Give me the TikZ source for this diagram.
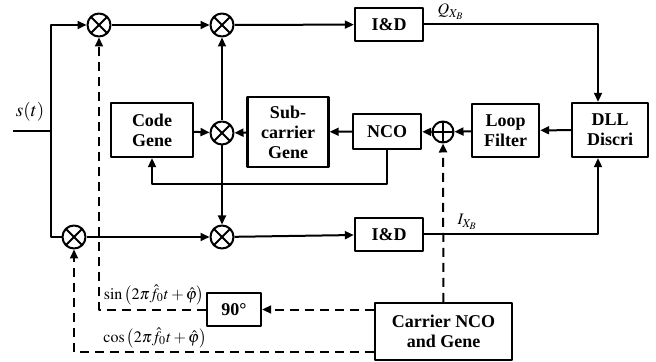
\documentclass[tikz,border=0pt]{standalone}
\usepackage{mathptmx}
\usepackage{fontspec}
\setmainfont{Liberation Serif}
\usetikzlibrary{arrows.meta}
\begin{document}
\begin{tikzpicture}[x=0.5pt,y=-0.5pt,line width=1pt,line join=round,
 >={Triangle[length=4.5pt,width=4pt]},
 blk/.style={draw,line width=1.2pt,align=center,inner sep=0pt,
  font=\fontsize{9}{10}\selectfont\bfseries},
 mul/.style={circle,draw,inner sep=0pt,minimum size=11.5pt,
  path picture={\draw (path picture bounding box.north west)--(path picture bounding box.south east)
   (path picture bounding box.north east)--(path picture bounding box.south west);}},
 add/.style={circle,draw,inner sep=0pt,minimum size=10.5pt,
  path picture={\draw (path picture bounding box.north)--(path picture bounding box.south)
   (path picture bounding box.east)--(path picture bounding box.west);}},
 dsh/.style={dash pattern=on 4.5pt off 3pt},
 lbl/.style={font=\fontsize{8}{9}\selectfont}]
 \useasboundingbox (0,0) rectangle (656,362);
 % blocks
 \node[blk,minimum width=41pt,minimum height=27pt] (code) at (152,130) {Code\\Gene};
 \node[blk,minimum width=40.5pt,minimum height=35pt] (sub) at (288,132) {Sub-\\carrier\\Gene};
 \node[blk,minimum width=34pt,minimum height=17.5pt] (nco) at (387,131.5) {NCO};
 \node[add] (sum) at (443,132) {};
 \node[blk,minimum width=33.5pt,minimum height=26.5pt] (loop) at (505.5,130.5) {Loop\\Filter};
 \node[blk,minimum width=38pt,minimum height=27pt] (dll) at (610,130) {DLL\\Discri};
 \node[blk,minimum width=34pt,minimum height=16.5pt] (idq) at (389,24.5) {I\&D};
 \node[blk,minimum width=34pt,minimum height=16.5pt] (idi) at (389,234.5) {I\&D};
 \node[blk,minimum width=68.5pt,minimum height=28.5pt] (car) at (443.5,331.5) {Carrier NCO\\and Gene};
 \node[blk,minimum width=27pt,minimum height=16.5pt] (ninety) at (234,309.5) {90°};
 % mixers
 \node[mul] (m1) at (99,25) {};
 \node[mul] (m2) at (222,25) {};
 \node[mul] (m3) at (222,133) {};
 \node[mul] (m4) at (74,237) {};
 \node[mul] (m5) at (222,237) {};
 \coordinate (in) at (13,131);
 \coordinate (split) at (51,131);
 \coordinate (fb) at (388,184);
 % solid paths
 \draw (in) -- (split) node[pos=0.45,above=1pt,font=\fontsize{9.5}{10}\selectfont] {$s(t)$};
 \draw[->] (split) |- (m1);
 \draw (split) |- (m4);
 \draw[->] (m1) -- (m2);
 \draw[->] (m2) -- (idq);
 \draw[->] (idq) -| ([xshift=-6pt]dll.north);
 \draw[->] (idi) -| ([xshift=-6pt]dll.south);
 \draw[->] (dll) -- (loop);
 \draw[->] (loop) -- (sum);
 \draw[->] (sum) -- (nco);
 \draw[->] (nco) -- (sub);
 \draw[->] (sub) -- (m3);
 \draw[->] (code) -- (m3);
 \draw[->] (m3) -- (m2);
 \draw[->] (m3) -- (m5);
 \draw[->] (nco) -- (nco |- fb) -| (code);
 \draw[->] (m4) -- (m5);
 \draw[->] (m5) -- (idi);
 % dashed paths
 \draw[dsh,->] (car) -- (sum);
 \draw[dsh,->] (car.west |- ninety) -- (ninety);
 \draw[dsh,->] (ninety) -| (m1);
 \draw[dsh,->] ([yshift=-10.25pt]car.west) -| (m4);
 % labels
 \node[lbl,anchor=west] at (430,12) {$Q_{X_B}$};
 \node[lbl,anchor=west] at (450,222) {$I_{X_B}$};
 \node[lbl] at (154,295) {$\sin\left(2\pi\hat{f}_0t+\hat{\varphi}\right)$};
 \node[lbl] at (155,338) {$\cos\left(2\pi\hat{f}_0t+\hat{\varphi}\right)$};
\end{tikzpicture}
\end{document}
